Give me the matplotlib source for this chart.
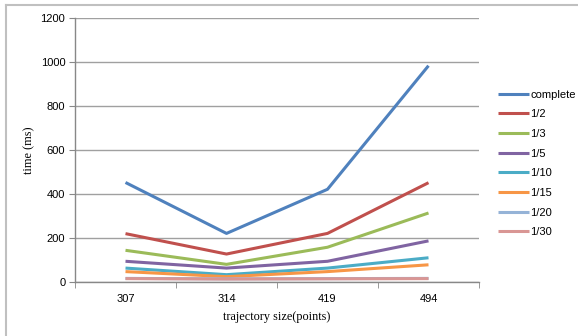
import numpy as np
import matplotlib.pyplot as plt
from matplotlib.lines import Line2D

# trajectory sizes (points) and query times (ms) per sampling ratio
sizes = ["307", "314", "419", "494"]
labels = ["complete", "1/2", "1/3", "1/5", "1/10", "1/15", "1/20", "1/30"]
complete = [452, 220, 421, 984]
half = [219, 126, 220, 451]
third = [143, 79, 157, 313]
fifth = [93, 62, 93, 186]
tenth = [62, 32, 62, 109]
fifteenth = [46, 23, 46, 77]
twentieth = [15, 13, 14, 15]
thirtieth = [14, 12, 13, 14]

series = [complete, half, third, fifth, tenth, fifteenth, twentieth, thirtieth]
colors = ["#4f81bd", "#c0504d", "#9bbb59", "#8064a2", "#4bacc6", "#f79646",
          "#95b3d7", "#d99694"]

fig = plt.figure(figsize=(5.78, 3.36), dpi=100)
ax = fig.add_axes([75 / 578, 1 - 281.7 / 336, 404 / 578, 263.4 / 336])

x = np.arange(len(sizes))
handles = []
for vals, lab, col in zip(series, labels, colors):
    h, = ax.plot(x, vals, color=col, lw=2.2, label=lab, solid_capstyle="butt")
    handles.append(h)

ax.set_xlim(-0.5, len(sizes) - 0.5)
ax.set_ylim(0, 1200)
ax.set_yticks(range(0, 1201, 200))
ax.yaxis.grid(True, color="#a0a0a0", lw=1)
ax.set_axisbelow(True)

ax.set_xticks(x)
ax.set_xticklabels(sizes, family="Liberation Sans", fontsize=8)
ax.set_xticks(np.arange(-0.5, len(sizes)), minor=True)
ax.tick_params(axis="x", which="major", length=0, pad=9)
ax.tick_params(axis="x", which="minor", length=4, color="#888888", direction="out")
ax.tick_params(axis="y", length=4, color="#888888", pad=3)
for t in ax.get_yticklabels():
    t.set_family("Liberation Sans")
    t.set_fontsize(8)

for side in ["top", "right"]:
    ax.spines[side].set_visible(False)
for side in ["left", "bottom"]:
    ax.spines[side].set_color("#888888")
    ax.spines[side].set_linewidth(1)

ax.set_ylabel("time (ms)", family="Liberation Serif", fontsize=8.8, labelpad=4)
ax.set_xlabel("trajectory size(points)", family="Liberation Serif", fontsize=8.8, labelpad=5)

leg = fig.legend(handles=handles, loc="upper left", bbox_to_anchor=(492 / 578, 1 - 84 / 336),
                 frameon=False, prop={"family": "Liberation Sans", "size": 8},
                 handlelength=2.8, handletextpad=0.15, labelspacing=0.87, borderpad=0)

# outer chart border (top and left edges)
fig.add_artist(Line2D([6 / 578, 1], [1 - 5 / 336, 1 - 5 / 336], color="#c0c0c0", lw=1.5))
fig.add_artist(Line2D([6 / 578, 6 / 578], [0, 1 - 5 / 336], color="#c0c0c0", lw=1.5))

fig.savefig("out.png", dpi=100)
